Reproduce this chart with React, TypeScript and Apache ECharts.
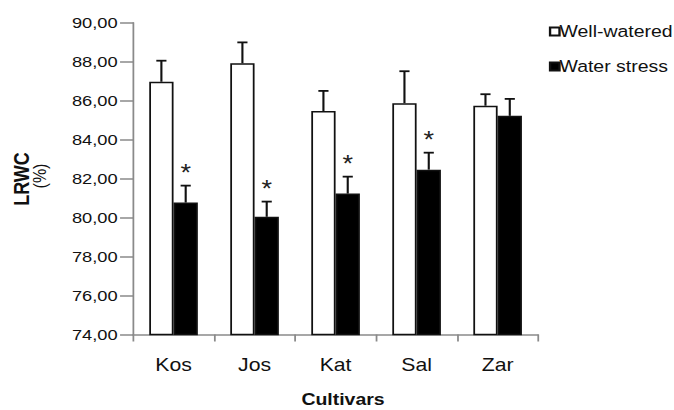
import React, { useEffect, useRef } from "react";
import * as echarts from "echarts";

const categories = ["Kos", "Jos", "Kat", "Sal", "Zar"];
const wellWatered = [86.97, 87.92, 85.47, 85.87, 85.74];
const wellWateredErr = [1.08, 1.07, 1.03, 1.64, 0.59];
const waterStress = [80.77, 80.04, 81.23, 82.46, 85.22];
const waterStressErr = [0.87, 0.78, 0.87, 0.87, 0.87];
const significant = [1, 1, 1, 1, 0];
const yMin = 74;
const yMax = 90;
const yStep = 2;

const W = 571;
const H = 410;
const SX = 674 / W;

const FONT = "'Liberation Sans', Arial, sans-serif";

function errorSeries(name: string, vals: number[], errs: number[], side: number, sig: number[] | null) {
  return {
    type: "custom",
    name: name + "-err",
    z: 5,
    silent: true,
    data: vals.map((v, i) => [i, v, errs[i], sig ? sig[i] : 0]),
    encode: { x: 0, y: 1 },
    renderItem: (params: any, api: any) => {
      const idx = api.value(0);
      const v = api.value(1);
      const e = api.value(2);
      const s = api.value(3);
      const base = api.coord([idx, v]);
      const top = api.coord([idx, v + e]);
      const bw = api.size([1, 0])[0];
      const x = base[0] + side * bw * 0.15;
      const half = 4.3;
      const children: any[] = [
        { type: "line", shape: { x1: x, y1: base[1], x2: x, y2: top[1] }, style: { stroke: "#111", lineWidth: 1.8 } },
        { type: "line", shape: { x1: x - half, y1: top[1], x2: x + half, y2: top[1] }, style: { stroke: "#111", lineWidth: 1.8 } },
      ];
      if (s) {
        children.push({
          type: "text",
          x: x,
          y: top[1] - 13,
          style: { text: "*", fill: "#222", font: "23px " + FONT, textAlign: "center", textVerticalAlign: "middle" },
        });
      }
      return { type: "group", children };
    },
  };
}

export default function App() {
  const ref = useRef<HTMLDivElement>(null);
  useEffect(() => {
    if (!ref.current) return;
    const chart = echarts.init(ref.current, null, { renderer: "svg" });
    chart.setOption({
      animation: false,
      textStyle: { fontFamily: FONT },
      grid: { left: 112.7, right: W - 455.9, top: 22.7, bottom: H - 334.5 },
      legend: {
        orient: "vertical",
        left: 465,
        top: 23,
        padding: 0,
        itemWidth: 8,
        itemHeight: 8,
        itemGap: 18,
        icon: "rect",
        selectedMode: false,
        data: ["Well-watered", "Water stress"],
        textStyle: { fontSize: 16.5, color: "#111", fontFamily: FONT, padding: [0, 0, 0, -5] },
      },
      xAxis: {
        type: "category",
        data: categories,
        axisLine: { lineStyle: { color: "#8a8a8a", width: 1.5 } },
        axisTick: { show: true, length: 7, lineStyle: { color: "#8a8a8a", width: 1.5 } },
        axisLabel: { fontSize: 18, color: "#111", margin: 21, fontFamily: FONT },
      },
      yAxis: {
        type: "value",
        min: yMin,
        max: yMax,
        interval: yStep,
        splitLine: { show: false },
        axisLine: { show: true, lineStyle: { color: "#8a8a8a", width: 1.5 } },
        axisTick: { show: true, length: 11, lineStyle: { color: "#8a8a8a", width: 1.5 } },
        axisLabel: {
          fontSize: 15.5,
          color: "#111",
          margin: 13,
          fontFamily: FONT,
          formatter: (v: number) => v.toFixed(2).replace(".", ","),
        },
      },
      graphic: [
        {
          type: "text",
          x: 18,
          y: 179,
          rotation: Math.PI / 2,
          style: { text: "LRWC", font: "bold 18px " + FONT, fill: "#111", textAlign: "center", textVerticalAlign: "middle" },
        },
        {
          type: "text",
          x: 33.5,
          y: 176,
          rotation: Math.PI / 2,
          style: { text: "(%)", font: "16px " + FONT, fill: "#111", textAlign: "center", textVerticalAlign: "middle" },
        },
        {
          type: "text",
          x: 290.6,
          y: 400,
          style: { text: "Cultivars", font: "bold 16.5px " + FONT, fill: "#111", textAlign: "center", textVerticalAlign: "middle" },
        },
      ],
      series: [
        {
          type: "bar",
          name: "Well-watered",
          data: wellWatered,
          barGap: "0%",
          barCategoryGap: "40%",
          itemStyle: { color: "#ffffff", borderColor: "#111", borderWidth: 1.5 },
        },
        {
          type: "bar",
          name: "Water stress",
          data: waterStress,
          barGap: "0%",
          barCategoryGap: "40%",
          itemStyle: { color: "#000000", borderColor: "#111", borderWidth: 1.5 },
        },
        errorSeries("Well-watered", wellWatered, wellWateredErr, -1, null),
        errorSeries("Water stress", waterStress, waterStressErr, 1, significant),
      ],
    });
    return () => chart.dispose();
  }, []);
  return (
    <div
      style={{
        position: "fixed",
        left: 0,
        top: 0,
        width: 674,
        height: H,
        overflow: "hidden",
        background: "#fff",
      }}
    >
      <div
        ref={ref}
        style={{ width: W, height: H, transform: `scaleX(${SX})`, transformOrigin: "0 0" }}
      />
    </div>
  );
}
